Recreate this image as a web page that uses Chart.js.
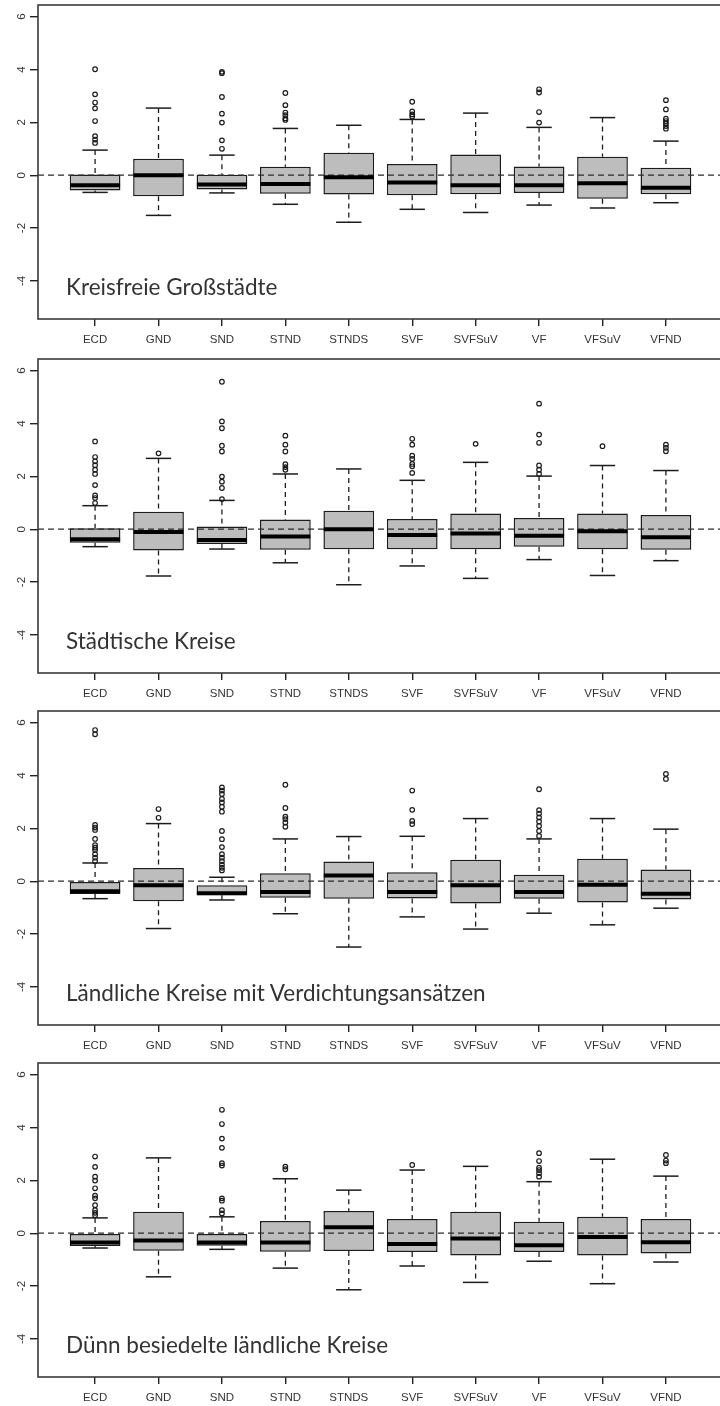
<!DOCTYPE html>
<html>
<head>
<meta charset="utf-8">
<script src="https://cdn.jsdelivr.net/npm/chart.js@4.4.1/dist/chart.umd.min.js"></script>
<style>
html, body { margin: 0; padding: 0; width: 720px; height: 1406px; overflow: hidden; background: #fff; }
.panel { position: absolute; left: 0; width: 724px; height: 352px; }
.panel canvas { display: block; }
.label { position: absolute; left: 66px; font-family: Lato, sans-serif; font-size: 22.5px; color: #333; white-space: nowrap; line-height: 1; }
</style>
</head>
<body>
<div class="panel" style="top:0px"><canvas id="p1" width="724" height="352"></canvas><div class="label" style="top:276px">Kreisfreie Großstädte</div></div>
<div class="panel" style="top:354px"><canvas id="p2" width="724" height="352"></canvas><div class="label" style="top:276px">Städtische Kreise</div></div>
<div class="panel" style="top:706px"><canvas id="p3" width="724" height="352"></canvas><div class="label" style="top:276px">Ländliche Kreise mit Verdichtungsansätzen</div></div>
<div class="panel" style="top:1058px"><canvas id="p4" width="724" height="352"></canvas><div class="label" style="top:276px">Dünn besiedelte ländliche Kreise</div></div>
<script>
// Kategorien und Achsen
const categories = ['ECD', 'GND', 'SND', 'STND', 'STNDS', 'SVF', 'SVFSuV', 'VF', 'VFSuV', 'VFND'];
const yTicks = [-4, -2, 0, 2, 4, 6];

// Kreisfreie Großstädte
const p1Low = [-0.65, -1.52, -0.67, -1.10, -1.78, -1.29, -1.41, -1.13, -1.24, -1.04];
const p1Q1 = [-0.58, -0.80, -0.54, -0.70, -0.73, -0.76, -0.72, -0.67, -0.89, -0.72];
const p1Med = [-0.38, 0.00, -0.35, -0.33, -0.08, -0.28, -0.38, -0.38, -0.30, -0.47];
const p1Q3 = [0.03, 0.62, 0.02, 0.32, 0.85, 0.42, 0.78, 0.33, 0.70, 0.28];
const p1High = [0.95, 2.54, 0.76, 1.77, 1.89, 2.11, 2.35, 1.81, 2.18, 1.29];
const p1Out = [
    [4.01, 3.06, 2.75, 2.53, 2.05, 1.48, 1.35, 1.22],
    [],
    [3.91, 3.86, 2.96, 2.33, 1.99, 1.32, 1.00],
    [3.11, 2.65, 2.37, 2.27, 2.15, 2.09],
    [],
    [2.78, 2.41, 2.30, 2.22],
    [],
    [3.25, 3.13, 2.39, 1.99],
    [],
    [2.84, 2.49, 2.14, 2.05, 1.96, 1.86, 1.76]
];

// Städtische Kreise
const p2Low = [-0.66, -1.77, -0.75, -1.27, -2.10, -1.39, -1.86, -1.15, -1.75, -1.19];
const p2Q1 = [-0.51, -0.81, -0.56, -0.78, -0.76, -0.76, -0.76, -0.66, -0.76, -0.78];
const p2Med = [-0.38, -0.11, -0.41, -0.28, 0.00, -0.22, -0.16, -0.25, -0.08, -0.30];
const p2Q3 = [0.04, 0.66, 0.10, 0.37, 0.70, 0.39, 0.59, 0.42, 0.59, 0.54];
const p2High = [0.89, 2.68, 1.09, 2.09, 2.28, 1.85, 2.53, 2.01, 2.41, 2.22];
const p2Out = [
    [3.32, 2.73, 2.57, 2.42, 2.25, 2.09, 1.67, 1.28, 1.18, 0.99],
    [2.87],
    [5.58, 4.08, 3.82, 3.16, 2.94, 1.99, 1.80, 1.56, 1.14],
    [3.54, 3.20, 2.94, 2.46, 2.35, 2.25],
    [],
    [3.42, 3.20, 2.78, 2.66, 2.47, 2.38, 2.13],
    [3.23],
    [4.75, 3.58, 3.27, 2.41, 2.25, 2.09],
    [3.14],
    [3.20, 3.08, 2.95]
];

// Ländliche Kreise mit Verdichtungsansätzen
const p3Low = [-0.66, -1.79, -0.71, -1.23, -2.49, -1.35, -1.81, -1.21, -1.65, -1.02];
const p3Q1 = [-0.48, -0.76, -0.53, -0.63, -0.66, -0.65, -0.84, -0.66, -0.81, -0.69];
const p3Med = [-0.38, -0.15, -0.46, -0.41, 0.22, -0.41, -0.15, -0.41, -0.13, -0.47];
const p3Q3 = [0.00, 0.50, -0.15, 0.30, 0.75, 0.34, 0.81, 0.24, 0.85, 0.44];
const p3High = [0.69, 2.18, 0.15, 1.60, 1.69, 1.70, 2.37, 1.60, 2.37, 1.97];
const p3Out = [
    [5.72, 5.56, 2.13, 2.03, 1.94, 1.60, 1.36, 1.27, 1.18, 1.02, 0.89, 0.76],
    [2.73, 2.40],
    [3.55, 3.43, 3.30, 3.11, 2.98, 2.82, 2.63, 1.90, 1.59, 1.29, 1.02, 0.89, 0.76, 0.63, 0.51, 0.41],
    [3.65, 2.77, 2.44, 2.35, 2.22, 2.06],
    [],
    [3.43, 2.70, 2.28, 2.16],
    [],
    [3.48, 2.69, 2.56, 2.41, 2.26, 2.09, 1.90, 1.71],
    [],
    [4.06, 3.87]
];

// Dünn besiedelte ländliche Kreise
const p4Low = [-0.56, -1.65, -0.61, -1.32, -2.14, -1.24, -1.86, -1.06, -1.91, -1.09];
const p4Q1 = [-0.48, -0.66, -0.47, -0.70, -0.67, -0.71, -0.84, -0.71, -0.84, -0.77];
const p4Med = [-0.35, -0.28, -0.35, -0.35, 0.23, -0.41, -0.20, -0.46, -0.14, -0.34];
const p4Q3 = [0.00, 0.81, 0.00, 0.46, 0.84, 0.54, 0.81, 0.43, 0.62, 0.54];
const p4High = [0.58, 2.85, 0.62, 2.06, 1.63, 2.39, 2.53, 1.95, 2.80, 2.16];
const p4Out = [
    [2.90, 2.51, 2.14, 1.99, 1.70, 1.42, 1.32, 1.06, 0.87, 0.77, 0.68],
    [],
    [4.67, 4.13, 3.58, 3.23, 2.65, 2.56, 1.32, 1.23, 0.87, 0.75],
    [2.52, 2.42],
    [],
    [2.58],
    [],
    [3.03, 2.73, 2.48, 2.39, 2.27, 2.14],
    [],
    [2.96, 2.75, 2.65]
];

const ink = '#1c1c1c';
const textColor = '#333';
const tickFont = { family: "'Liberation Sans', Arial, sans-serif", size: 11.5 };

// Rahmen um die Zeichenfläche (wie box() in R)
const framePlugin = {
    id: 'frame',
    afterDraw(chart) {
        const a = chart.chartArea;
        const ctx = chart.ctx;
        ctx.save();
        ctx.strokeStyle = '#3a3a3a';
        ctx.lineWidth = 1.6;
        ctx.strokeRect(a.left, a.top, a.right - a.left, a.bottom - a.top);
        ctx.restore();
    }
};

function makePanel(id, low, q1, med, q3, high, out) {
    const boxes = [], medians = [], caps = [], stems = [], points = [];
    categories.forEach(function(c, i) {
        const x = i + 1;
        boxes.push({ x: x, y: [q1[i], q3[i]] });
        medians.push({ x: x, y: med[i] });
        caps.push({ x: x, y: low[i] });
        caps.push({ x: x, y: high[i] });
        stems.push({ x: x, y: high[i] }, { x: x, y: q3[i] }, { x: x, y: null });
        stems.push({ x: x, y: q1[i] }, { x: x, y: low[i] }, { x: x, y: null });
        out[i].forEach(function(v) { points.push({ x: x, y: v }); });
    });

    const config = {
        type: 'bar',
        data: {
            datasets: [
                {
                    type: 'bar',
                    data: boxes,
                    backgroundColor: '#bdbdbd',
                    borderColor: ink,
                    borderWidth: 1.5,
                    borderSkipped: false,
                    categoryPercentage: 1,
                    barPercentage: 0.8,
                    order: 6
                },
                {
                    type: 'line',
                    data: stems,
                    borderColor: ink,
                    borderWidth: 1.3,
                    borderDash: [5, 4],
                    pointRadius: 0,
                    spanGaps: false,
                    order: 5
                },
                {
                    type: 'line',
                    data: [{ x: 0.1, y: 0 }, { x: 10.9, y: 0 }],
                    borderColor: '#2a2a2a',
                    borderWidth: 1.3,
                    borderDash: [6, 4],
                    pointRadius: 0,
                    order: 4
                },
                {
                    type: 'scatter',
                    data: caps,
                    pointStyle: 'line',
                    pointRadius: 12.7,
                    borderColor: ink,
                    pointBorderWidth: 1.5,
                    order: 3
                },
                {
                    type: 'scatter',
                    data: medians,
                    pointStyle: 'line',
                    pointRadius: 25,
                    borderColor: '#000',
                    pointBorderWidth: 4,
                    order: 2
                },
                {
                    type: 'scatter',
                    data: points,
                    pointStyle: 'circle',
                    pointRadius: 2.3,
                    backgroundColor: 'rgba(0,0,0,0)',
                    borderColor: ink,
                    pointBorderWidth: 1.2,
                    order: 1
                }
            ]
        },
        options: {
            responsive: false,
            animation: false,
            events: [],
            layout: { autoPadding: false, padding: { top: 5, right: 1, left: 0, bottom: 0 } },
            plugins: { legend: { display: false }, tooltip: { enabled: false } },
            scales: {
                x: {
                    type: 'linear',
                    min: 0.1,
                    max: 10.9,
                    offset: false,
                    afterBuildTicks: function(scale) {
                        scale.ticks = categories.map(function(c, i) { return { value: i + 1 }; });
                    },
                    afterFit: function(scale) {
                        scale.height = 33;
                        scale.paddingLeft = 0;
                        scale.paddingRight = 0;
                    },
                    ticks: {
                        autoSkip: false,
                        maxRotation: 0,
                        padding: 6.5,
                        color: textColor,
                        font: tickFont,
                        callback: function(v) { return categories[v - 1]; }
                    },
                    grid: { offset: false, drawOnChartArea: false, drawTicks: true, tickLength: 7, color: '#222', lineWidth: 1.4 },
                    border: { display: false }
                },
                y: {
                    type: 'linear',
                    min: -5.44,
                    max: 6.44,
                    afterBuildTicks: function(scale) {
                        scale.ticks = yTicks.map(function(v) { return { value: v }; });
                    },
                    afterFit: function(scale) {
                        scale.width = 38;
                        scale.paddingTop = 0;
                        scale.paddingBottom = 0;
                    },
                    ticks: {
                        minRotation: 90,
                        maxRotation: 90,
                        crossAlign: 'center',
                        padding: 3,
                        color: textColor,
                        font: tickFont
                    },
                    grid: { drawOnChartArea: false, drawTicks: true, tickLength: 8, color: '#222', lineWidth: 1.4 },
                    border: { display: false }
                }
            }
        },
        plugins: [framePlugin]
    };
    return new Chart(document.getElementById(id), config);
}

const chart1 = makePanel('p1', p1Low, p1Q1, p1Med, p1Q3, p1High, p1Out);
const chart2 = makePanel('p2', p2Low, p2Q1, p2Med, p2Q3, p2High, p2Out);
const chart3 = makePanel('p3', p3Low, p3Q1, p3Med, p3Q3, p3High, p3Out);
const chart4 = makePanel('p4', p4Low, p4Q1, p4Med, p4Q3, p4High, p4Out);
</script>
</body>
</html>
